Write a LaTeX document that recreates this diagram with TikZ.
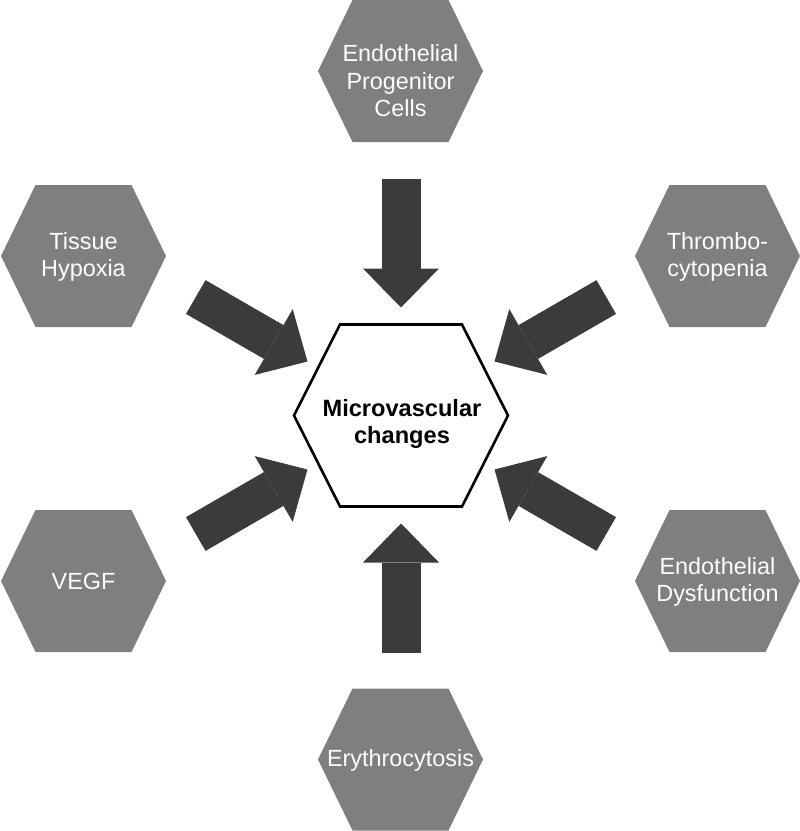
\documentclass[tikz,border=0pt]{standalone}
\usepackage{fontspec}
\setmainfont{Liberation Sans}
\usetikzlibrary{arrows.meta, calc}

\definecolor{hexgray}{HTML}{7F7F7F}
\definecolor{arrowgray}{HTML}{3B3B3B}

\tikzset{
  outertext/.style={text=white, align=center, inner sep=0pt, font=\fontsize{23.4}{27.5}\selectfont},
  innertext/.style={text=black, align=center, inner sep=0pt, font=\fontsize{23.6}{26.5}\selectfont\bfseries},
  blockarrow/.style={draw=arrowgray, line width=39pt, -{Triangle[width=76pt, length=39pt, line width=0pt]}},
  centerhex/.style={draw=black, line width=2.6pt, fill=white, line join=miter},
  pics/outerhex/.style={code={
      \fill[hexgray] (-82.5,0) -- (-48,71) -- (48,71) -- (82.5,0) -- (48,-71) -- (-48,-71) -- cycle;
  }},
}

\begin{document}
\begin{tikzpicture}[x=1pt, y=-1pt]
  \useasboundingbox (0,0) rectangle (800,831);
  % outer hexagons
  \pic at (400.5,71) {outerhex};
  \pic at (83.5,256) {outerhex};
  \pic at (717.5,256) {outerhex};
  \pic at (83.5,581) {outerhex};
  \pic at (717.5,581) {outerhex};
  \pic at (400.5,759.5) {outerhex};
  % labels
  \node[outertext] (epc) at (400.5,81) {Endothelial\\Progenitor\\Cells};
  \node[outertext] (hyp) at (83.5,257) {Tissue\\Hypoxia};
  \node[outertext] (thr) at (717.5,257) {Thrombo-\\cytopenia};
  \node[outertext] (vegf) at (83.5,581) {VEGF};
  \node[outertext] (dys) at (717.5,582) {Endothelial\\Dysfunction};
  \node[outertext] (ery) at (400.5,760) {Erythrocytosis};
  % centre
  \coordinate (ctr) at (401,415.5);
  \draw[centerhex, shift={(ctr)}] (-107,0) -- (-61,-91) -- (61,-91) -- (107,0) -- (61,91) -- (-61,91) -- cycle;
  \node[innertext] (mc) at (402,424) {Microvascular\\changes};
  % block arrows
  \foreach \ang/\nm in {270/epc, 210/hyp, 330/thr, 150/vegf, 30/dys, 90/ery} {
    \coordinate (\nm-tail) at ($(ctr)+(\ang:237)$);
    \coordinate (\nm-tip) at ($(ctr)+(\ang:108)$);
    \draw[blockarrow] (\nm-tail) -- (\nm-tip);
  }
\end{tikzpicture}
\end{document}
